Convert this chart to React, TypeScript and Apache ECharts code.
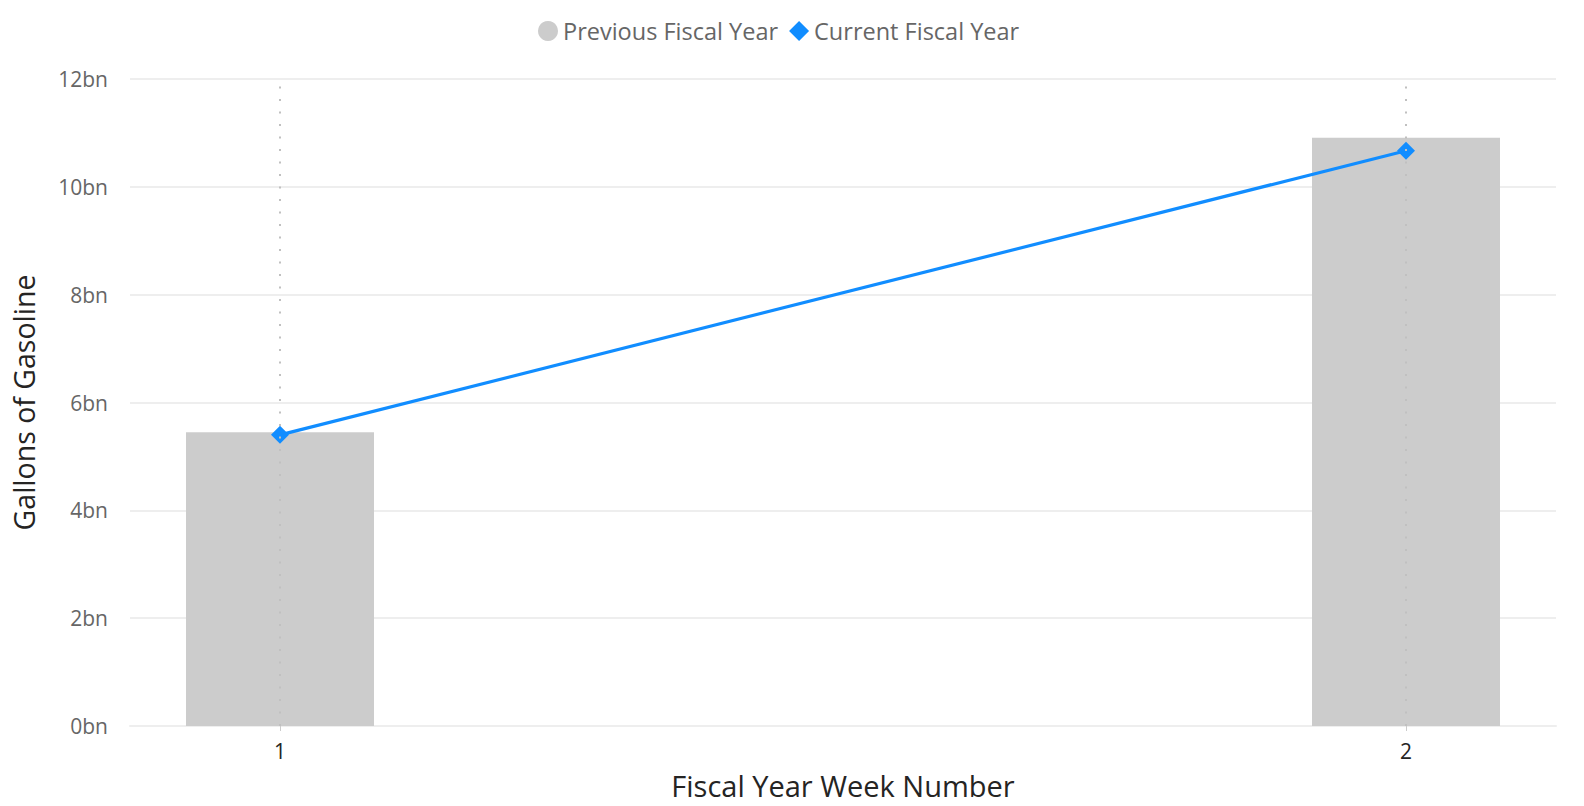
import React, { useEffect, useRef } from "react";
import * as echarts from "echarts";

const weeks = [1, 2];
const previousFiscalYear = [5.45e9, 10.91e9];
const currentFiscalYear = [5.4e9, 10.67e9];
const yTicks = [0, 2e9, 4e9, 6e9, 8e9, 10e9, 12e9];

const FONT = "'Open Sans', 'Segoe UI', sans-serif";

export default function App() {
  const ref = useRef<HTMLDivElement>(null);
  useEffect(() => {
    if (!ref.current) return;
    const chart = echarts.init(ref.current, null, { renderer: "svg" });
    chart.setOption({
      animation: false,
      textStyle: { fontFamily: FONT },
      legend: {
        top: 14,
        left: 533,
        itemGap: 11,
        itemWidth: 20,
        itemHeight: 20,
        textStyle: { fontSize: 23.5, color: "#666666", fontFamily: FONT },
        data: [
          { name: "Previous Fiscal Year", icon: "circle" },
          { name: "Current Fiscal Year", icon: "diamond" },
        ],
      },
      grid: {
        left: 130,
        right: 28,
        top: 79,
        bottom: 80,
        containLabel: false,
        outerBoundsMode: "none",
      },
      xAxis: {
        type: "value",
        min: 1 - 150 / 1126,
        max: 2 + 150 / 1126,
        name: "Fiscal Year Week Number",
        nameLocation: "middle",
        nameGap: 45,
        nameMoveOverlap: false,
        nameTextStyle: { fontSize: 29, color: "#252423", fontFamily: FONT },
        axisLine: { show: true, lineStyle: { color: "#EEEEEE", width: 2 } },
        axisTick: { show: true, customValues: weeks, length: 5, lineStyle: { color: "#CCCCCC" } },
        axisLabel: {
          customValues: weeks,
          fontSize: 21,
          color: "#252423",
          margin: 14,
          fontFamily: FONT,
        },
        splitLine: { show: false },
      },
      yAxis: {
        type: "value",
        min: 0,
        max: 12e9,
        interval: 2e9,
        name: "Gallons of Gasoline",
        nameLocation: "middle",
        nameGap: 92,
        nameMoveOverlap: false,
        nameTextStyle: { fontSize: 28.5, color: "#252423", fontFamily: FONT },
        axisLine: { show: false },
        axisTick: { show: false },
        axisLabel: {
          fontSize: 21,
          color: "#666666",
          margin: 22,
          fontFamily: FONT,
          formatter: (v: number) => (yTicks.includes(v) ? `${v / 1e9}bn` : ""),
        },
        splitLine: { lineStyle: { color: "#EEEEEE", width: 2 } },
      },
      series: [
        {
          name: "gridlines",
          type: "line",
          data: [],
          z: 0,
          silent: true,
          markLine: {
            silent: true,
            symbol: "none",
            label: { show: false },
            lineStyle: { color: "#C0C0C0", type: [2, 10.5], width: 2 },
            data: weeks.map((w) => ({ xAxis: w })),
          },
        },
        {
          name: "Previous Fiscal Year",
          type: "bar",
          z: 2,
          barWidth: 188,
          itemStyle: { color: "#CCCCCC" },
          data: weeks.map((w, i) => [w, previousFiscalYear[i]]),
        },
        {
          name: "Current Fiscal Year",
          type: "line",
          z: 3,
          symbol: "diamond",
          symbolSize: 18,
          lineStyle: { color: "#118DFF", width: 3.2 },
          itemStyle: { color: "#118DFF", borderWidth: 0 },
          data: weeks.map((w, i) => [w, currentFiscalYear[i]]),
        },
      ],
    });
    return () => chart.dispose();
  }, []);
  return (
    <div
      ref={ref}
      style={{ position: "absolute", left: 0, top: 0, width: 1584, height: 806 }}
    />
  );
}
